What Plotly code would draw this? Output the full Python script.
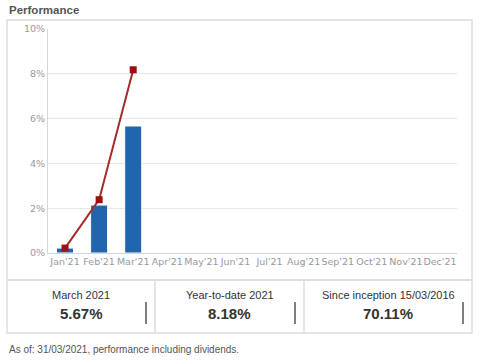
import plotly.graph_objects as go

months = ["Jan'21", "Feb'21", "Mar'21", "Apr'21", "May'21", "Jun'21",
          "Jul'21", "Aug'21", "Sep'21", "Oct'21", "Nov'21", "Dec'21"]
monthly_perf = [0.22, 2.14, 5.67]
cumulative_perf = [0.22, 2.38, 8.18]
y_ticks = [0, 2, 4, 6, 8, 10]
y_tick_labels = ["0%", "2%", "4%", "6%", "8%", "10%"]
table_labels = ["March 2021", "Year-to-date 2021", "Since inception 15/03/2016"]
table_values = ["5.67%", "8.18%", "70.11%"]
title_text = "Performance"
footnote = "As of: 31/03/2021, performance including dividends."

W, H = 479, 362
def px(x): return x / W
def py(y): return 1 - y / H

fig = go.Figure()
fig.add_trace(go.Bar(
    x=months[:len(monthly_perf)], y=monthly_perf,
    marker=dict(color="#2166ac", line=dict(color="#ffffff", width=1)),
    width=0.5, hoverinfo="skip", showlegend=False))
fig.add_trace(go.Scatter(
    x=months[:len(cumulative_perf)], y=cumulative_perf, mode="lines+markers",
    line=dict(color="#a52a2a", width=2),
    marker=dict(symbol="square", size=7, color="#9b1111"),
    hoverinfo="skip", showlegend=False))

fig.update_layout(
    width=W, height=H, margin=dict(l=0, r=0, t=0, b=0),
    paper_bgcolor="white", plot_bgcolor="white",
    xaxis=dict(domain=[px(48), px(457)], type="category",
               categoryorder="array", categoryarray=months,
               range=[-0.5, 11.5], tickvals=months, ticktext=months,
               tickangle=0, automargin=False,
               showgrid=False, showline=True, linecolor="#ccd6eb", linewidth=1,
               ticks="", tickfont=dict(family="DejaVu Sans", size=9.5, color="#999999"),
               fixedrange=True),
    yaxis=dict(domain=[py(253), py(29)], range=[0, 10], tickvals=y_ticks,
               ticktext=y_tick_labels, showgrid=True, gridcolor="#e6e6e6",
               gridwidth=1, zeroline=False, showline=True, linecolor="#d8d8d8",
               ticks="", automargin=False,
               tickfont=dict(family="DejaVu Sans", size=9.5, color="#999999"),
               fixedrange=True),
    bargap=0.5,
)

shapes = []
border = "#dddddd"
shapes.append(dict(type="rect", xref="paper", yref="paper",
                   x0=px(7), x1=px(472), y0=py(280), y1=py(20),
                   line=dict(color=border, width=1.5), layer="below"))
shapes.append(dict(type="rect", xref="paper", yref="paper",
                   x0=px(7), x1=px(472), y0=py(333), y1=py(280),
                   line=dict(color=border, width=1.5), layer="below"))
for xd in (155, 304):
    shapes.append(dict(type="line", xref="paper", yref="paper",
                       x0=px(xd), x1=px(xd), y0=py(333), y1=py(280),
                       line=dict(color=border, width=1.5)))
for xc in (146, 295, 463):
    shapes.append(dict(type="line", xref="paper", yref="paper",
                       x0=px(xc), x1=px(xc), y0=py(324), y1=py(302),
                       line=dict(color="#555555", width=1.5)))
fig.update_layout(shapes=shapes)

ann = []
ann.append(dict(text="<b>" + title_text + "</b>", xref="paper", yref="paper",
                x=px(7), y=py(10), xanchor="left", yanchor="middle", showarrow=False,
                font=dict(family="Liberation Sans", size=11.5, color="#555555")))
centers = [81, 229.5, 388]
for c, lab, val in zip(centers, table_labels, table_values):
    ann.append(dict(text=lab, xref="paper", yref="paper", x=px(c), y=py(295),
                    xanchor="center", yanchor="middle", showarrow=False,
                    font=dict(family="Liberation Sans", size=11, color="#333333")))
    ann.append(dict(text="<b>" + val + "</b>", xref="paper", yref="paper", x=px(c), y=py(313),
                    xanchor="center", yanchor="middle", showarrow=False,
                    font=dict(family="Liberation Sans", size=15, color="#333333")))
ann.append(dict(text=footnote, xref="paper", yref="paper", x=px(7), y=py(349),
                xanchor="left", yanchor="middle", showarrow=False,
                font=dict(family="Liberation Sans", size=10, color="#555555")))
fig.update_layout(annotations=ann)

fig.write_html("out.html", config={"displayModeBar": False},
               post_script="document.body.style.margin='0';document.body.style.overflow='hidden';")
